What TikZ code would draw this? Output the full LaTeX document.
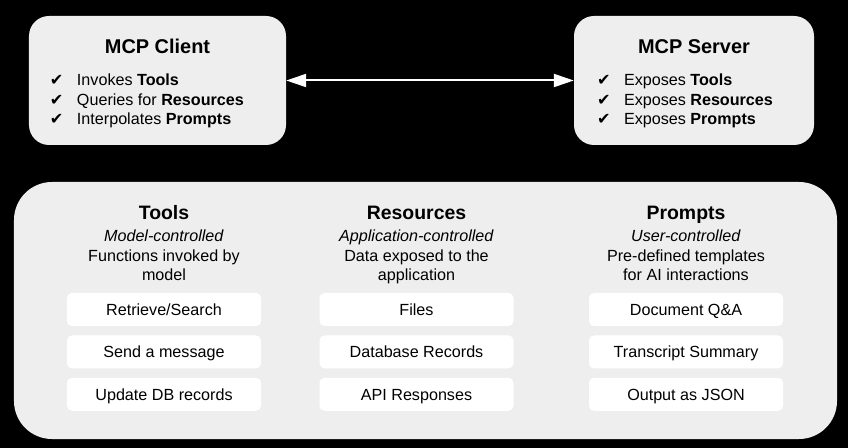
\documentclass[tikz,border=0pt]{standalone}
\usepackage{fontspec}
\setmainfont{Liberation Sans}
\newfontfamily\checkfont{DejaVu Sans}
\usetikzlibrary{positioning,arrows.meta}
\definecolor{boxgray}{HTML}{EEEEEE}
\newcommand{\chk}{\makebox[27bp][l]{\checkfont\char"2714}}

\begin{document}
\begin{tikzpicture}[
	x=1bp, y=-1bp,
	node distance=9bp and 0bp,
	font=\fontsize{16.2}{19.5}\selectfont,
	hostbox/.style={fill=boxgray, rounded corners=20bp, minimum height=129bp, inner sep=0pt},
	groupbox/.style={fill=boxgray, rounded corners=38bp, minimum width=823bp, minimum height=257bp, inner sep=0pt},
	hosttitle/.style={font=\fontsize{20}{24}\selectfont\bfseries, inner sep=0pt},
	checklist/.style={align=left, inner sep=0pt},
	coltitle/.style={font=\fontsize{19.5}{23}\selectfont\bfseries, inner sep=0pt, anchor=base},
	coltext/.style={align=center, inner sep=0pt, anchor=north},
	itembox/.style={fill=white, rounded corners=5bp, minimum width=194bp, minimum height=33bp, inner sep=0pt, text height=11.6bp, text depth=0bp},
	biarrow/.style={white, line width=2bp, {Triangle[length=20bp,width=13bp]}-{Triangle[length=20bp,width=13bp]}}
	]
	\useasboundingbox[fill=black] (0,0) rectangle (848,448);
	
	% host boxes
	\node[hostbox, minimum width=257bp] (client) at (157.5,80.5) {};
	\node[hosttitle, below=23.5bp of client.north] (clienttitle) {MCP Client};
	\node[checklist, below right=58bp and 21bp of client.north west] (clientlist)
		{\chk Invokes \textbf{Tools}\\ \chk Queries for \textbf{Resources}\\ \chk Interpolates \textbf{Prompts}};
	
	\node[hostbox, minimum width=240bp] (server) at (694,80.5) {};
	\node[hosttitle, below=23.5bp of server.north] (servertitle) {MCP Server};
	\node[checklist, below right=58bp and 23bp of server.north west] (serverlist)
		{\chk Exposes \textbf{Tools}\\ \chk Exposes \textbf{Resources}\\ \chk Exposes \textbf{Prompts}};
	
	\path (client) edge[biarrow] (server);
	
	% capabilities
	\node[groupbox] (group) at (425.5,310.5) {};
	
	\node[coltitle] (tools) at (164,220) {Tools};
	\node[coltext] (toolsdesc) at (164,230) {\textit{Model-controlled}\\ Functions invoked by\\ model};
	\node[itembox] (search) at (164,309.5) {Retrieve/Search};
	\node[itembox, below=of search] (message) {Send a message};
	\node[itembox, below=of message] (update) {Update DB records};
	
	\node[coltitle] (resources) at (416.5,220) {Resources};
	\node[coltext] (resdesc) at (416.5,230) {\textit{Application-controlled}\\ Data exposed to the\\ application};
	\node[itembox] (files) at (416.5,309.5) {Files};
	\node[itembox, below=of files] (records) {Database Records};
	\node[itembox, below=of records] (api) {API Responses};
	
	\node[coltitle] (prompts) at (686,220) {Prompts};
	\node[coltext] (promptsdesc) at (686,230) {\textit{User-controlled}\\ Pre-defined templates\\ for AI interactions};
	\node[itembox] (docqa) at (686,309.5) {Document Q\&A};
	\node[itembox, below=of docqa] (summary) {Transcript Summary};
	\node[itembox, below=of summary] (json) {Output as JSON};
	
\end{tikzpicture}
\end{document}
